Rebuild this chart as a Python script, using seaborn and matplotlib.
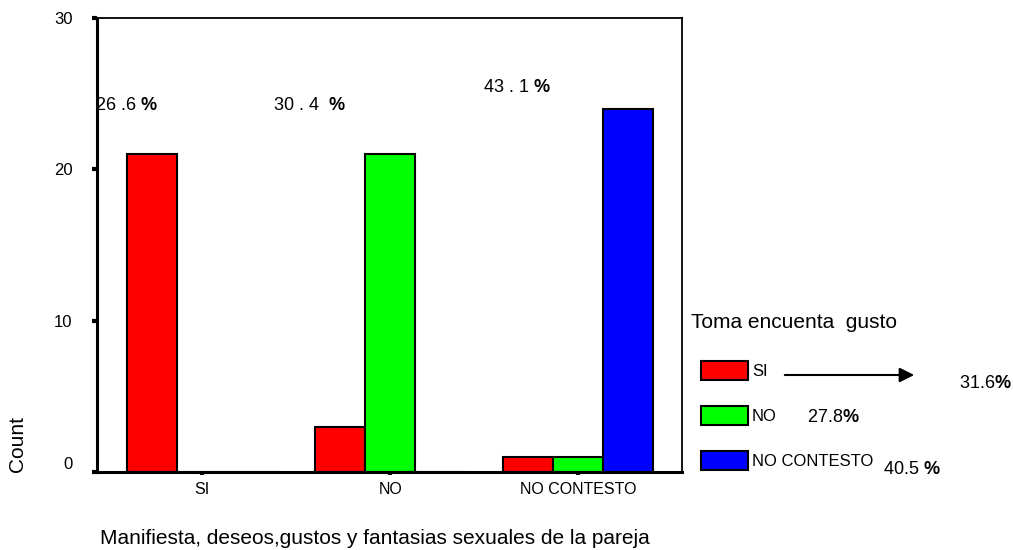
import matplotlib
matplotlib.use('Agg')
from matplotlib import pyplot as plt
from matplotlib.patches import Patch
import pandas as pd
import seaborn as sns

# categories of the x axis and of the hue
categorias = ['SI', 'NO', 'NO CONTESTO']
grupos = ['SI', 'NO', 'NO CONTESTO']
colores = ['#ff0000', '#00ff00', '#0000ff']

# counts per hue group (one value per x category)
conteo_si = [21, 3, 1]
conteo_no = [0, 21, 1]
conteo_nc = [0, 0, 24]

# percentage notes written on the chart
pct_barras = ['26 .6 ', '30 . 4  ', '43 . 1 ']
pct_leyenda = ['31.6', '27.8', '40.5 ']

df = pd.DataFrame({
    'categoria': categorias * 3,
    'grupo': [g for g in grupos for _ in categorias],
    'count': conteo_si + conteo_no + conteo_nc,
})

sns.set_style('white')
plt.rcParams['font.family'] = ['Liberation Sans', 'DejaVu Sans']
plt.rcParams['text.color'] = 'black'
plt.rcParams['xtick.color'] = 'black'
plt.rcParams['ytick.color'] = 'black'
plt.rcParams['mathtext.fontset'] = 'custom'
plt.rcParams['mathtext.bf'] = 'Liberation Sans:bold'
plt.rcParams['mathtext.rm'] = 'Liberation Sans'

fig = plt.figure(figsize=(10.13, 5.5), dpi=100)
ax = fig.add_axes([0.0958, 0.1418, 0.577, 0.8255])

sns.barplot(data=df, x='categoria', y='count', hue='grupo', order=categorias,
            hue_order=grupos, palette=colores, edgecolor='black', linewidth=1.5,
            saturation=1, width=0.8, legend=False, ax=ax)

ax.set_xlim(-0.56, 2.55)
ax.set_ylim(0, 30)
ax.set_yticks([0, 10, 20, 30])
ax.set_xlabel('')
ax.set_ylabel('')
ax.tick_params(axis='y', left=True, length=3.5, width=3, pad=14, labelsize=12)
ax.tick_params(axis='x', bottom=True, length=2.5, width=3, pad=5, labelsize=11.5)
# the 0 label sits a little above its tick in the original
ax.get_yticklabels()[0].set_va('bottom')
for s in ['left', 'bottom']:
    ax.spines[s].set_linewidth(2.2)
for s in ['top', 'right']:
    ax.spines[s].set_linewidth(1.3)
for s in ax.spines.values():
    s.set_color('black')

# percentage text above the groups
pos_txt = [(95, 106), (273, 106), (483, 87)]
for (px, py), t in zip(pos_txt, pct_barras):
    fig.text(px / 1013, 1 - py / 550, t + r'$\mathbf{\%}$', fontsize=13,
             va='center', ha='left')

fig.text(18 / 1013, 1 - 444 / 550, 'Count', rotation=90, fontsize=15,
         va='center', ha='center')
fig.text(375 / 1013, 1 - 538 / 550,
         'Manifiesta, deseos,gustos y fantasias sexuales de la pareja',
         fontsize=15, va='center', ha='center')

# legend at the right
fig.text(691 / 1013, 1 - 322 / 550, 'Toma encuenta  gusto', fontsize=15,
         va='center', ha='left')
handles = [Patch(facecolor=c, edgecolor='black', linewidth=1.5) for c in colores]
fig.legend(handles, grupos, loc='upper left',
           bbox_to_anchor=(701 / 1013, 1 - 361 / 550), frameon=False,
           fontsize=12, handlelength=2.8, handleheight=1.35, labelspacing=1.58,
           handletextpad=0.25, borderpad=0, borderaxespad=0)

ax.annotate('', xy=(917 / 1013, 1 - 375 / 550), xytext=(782 / 1013, 1 - 375 / 550),
            xycoords='figure fraction', textcoords='figure fraction',
            arrowprops=dict(arrowstyle='-|>', color='black', lw=1.5,
                            mutation_scale=22))
pos_leg = [(959, 384), (807, 417), (883, 469)]
for (px, py), t in zip(pos_leg, pct_leyenda):
    fig.text(px / 1013, 1 - py / 550, t + r'$\mathbf{\%}$', fontsize=13,
             va='center', ha='left')

fig.savefig('out.png', dpi=100)
